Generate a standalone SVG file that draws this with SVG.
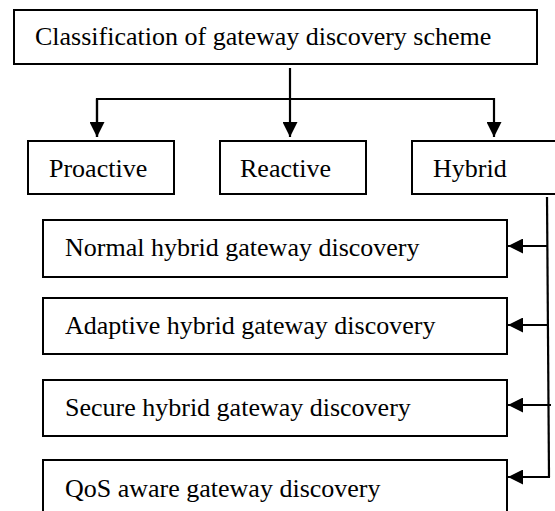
<svg xmlns="http://www.w3.org/2000/svg" width="555" height="511" viewBox="0 0 555 511">
<style>
.box{fill:#fff;stroke:#000;stroke-width:2}
.lbl{font-family:Liberation Serif, serif;font-size:26px;fill:#000}
.ln{fill:none;stroke:#000;stroke-width:2.2}
</style>
<defs>
<marker id="ah" markerWidth="15" markerHeight="15" viewBox="0 0 15 15" refX="15" refY="7.5" orient="auto" markerUnits="userSpaceOnUse">
<path d="M0,0 L15,7.5 L0,15 Z" fill="#000"/>
</marker>
</defs>
<rect width="555" height="511" fill="#fff"/>
<g id="connectors">
<path class="ln" d="M290,68 V137" marker-end="url(#ah)"/>
<path class="ln" d="M97,137 V99 H494 V137" marker-end="url(#ah)"/>
<path class="ln" d="M97,99 V137" marker-end="url(#ah)"/>
<path class="ln" d="M547,197 L549,477"/>
<path class="ln" d="M548,246 H508" marker-end="url(#ah)"/>
<path class="ln" d="M548,325 H508" marker-end="url(#ah)"/>
<path class="ln" d="M551,405 H508" marker-end="url(#ah)"/>
<path class="ln" d="M550,477 H508" marker-end="url(#ah)"/>
</g>
<g id="root">
<rect class="box" x="14" y="10" width="523" height="54"/>
<text class="lbl" x="35" y="45">Classification of gateway discovery scheme</text>
</g>
<g id="proactive">
<rect class="box" x="28" y="141" width="146" height="53"/>
<text class="lbl" x="49" y="177">Proactive</text>
</g>
<g id="reactive">
<rect class="box" x="220" y="141" width="146" height="53"/>
<text class="lbl" x="240" y="177">Reactive</text>
</g>
<g id="hybrid">
<rect class="box" x="412" y="141" width="150" height="53"/>
<text class="lbl" x="433" y="177">Hybrid</text>
</g>
<g id="normal">
<rect class="box" x="43" y="220" width="464" height="57"/>
<text class="lbl" x="65" y="256">Normal hybrid gateway discovery</text>
</g>
<g id="adaptive">
<rect class="box" x="43" y="298" width="464" height="56"/>
<text class="lbl" x="65" y="334">Adaptive hybrid gateway discovery</text>
</g>
<g id="secure">
<rect class="box" x="43" y="380" width="464" height="56"/>
<text class="lbl" x="65" y="416">Secure hybrid gateway discovery</text>
</g>
<g id="qos">
<rect class="box" x="43" y="460" width="464" height="60"/>
<text class="lbl" x="65" y="497">QoS aware gateway discovery</text>
</g>
</svg>
